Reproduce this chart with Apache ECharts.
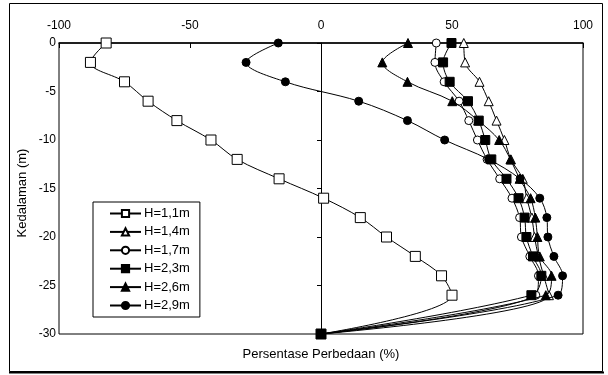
<!DOCTYPE html>
<html><head><meta charset="utf-8">
<script src="https://cdn.jsdelivr.net/npm/echarts@6/dist/echarts.min.js"></script>
<style>html,body{margin:0;padding:0;background:#fff}#c{width:608px;height:375px}</style>
</head><body><div id="c"></div>
<script>
var depths = [0,-2,-4,-6,-8,-10,-12,-14,-16,-18,-20,-22,-24,-26,-30];
var seriesNames = ['H=1,1m','H=1,4m','H=1,7m','H=2,3m','H=2,6m','H=2,9m'];
var h11 = [-82,-88,-75,-66,-55,-42,-32,-16,1,15,25,36,46,50,0];
var h14 = [54.5,55,60.5,64,67,70,72.5,77,78.5,80.5,81.5,83,85,87,0];
var h17 = [44,43.5,47,52.7,56.4,59.7,63.4,68.2,72.9,75.8,76.5,79.7,83,82,0];
var h23 = [49.8,46.6,49.1,56.1,60.2,62.7,65,70.8,75.4,77.7,78.4,80.9,84.1,80.3,0];
var h26 = [33.2,23.4,33,50.1,60,68,72.3,75.8,80,81.8,82.6,83.5,88,85.8,0];
var h29 = [-16.3,-28.6,-13.6,14.4,33,47.2,64,76,83.5,86.2,86.6,88.9,92.2,90.5,0];
var xTicks = [-100,-50,0,50,100];
var xTitle = 'Persentase Perbedaan (%)';
var yTitle = 'Kedalaman (m)';

var values = [h11,h14,h17,h23,h26,h29];
var symbols = ['rect','triangle','circle','rect','triangle','circle'];
var filled = [false,false,false,true,true,true];
var sizes = [10,9,8,9,9,8];
var FONT = 'Liberation Sans';

var series = values.map(function(v,i){
  return {
    name: seriesNames[i], type:'line', smooth:0.35,
    data: v.map(function(x,j){return [x, depths[j]];}),
    symbol: symbols[i], symbolSize: sizes[i], showAllSymbol:true,
    lineStyle:{color:'#000', width:1},
    itemStyle:{color: filled[i] ? '#000' : '#fff', borderColor:'#000', borderWidth:1},
    emphasis:{disabled:true}, animation:false, z: 2+i
  };
});

var chart = echarts.init(document.getElementById('c'), null, {renderer:'canvas'});
chart.setOption({
  animation:false,
  backgroundColor:'#fff',
  grid:{left:59, right:25, top:43, bottom:41, show:true, borderColor:'#000', borderWidth:1},
  xAxis:{type:'value', position:'top', min:-100, max:100, interval:50,
    axisLine:{onZero:false, lineStyle:{color:'#000', width:1.5}},
    axisTick:{inside:true, length:5, lineStyle:{color:'#000'}},
    axisLabel:{color:'#000', fontFamily:FONT, fontSize:12, margin:11,
      formatter:function(v){return xTicks.indexOf(v)>=0 ? String(v) : '';}},
    splitLine:{show:false}},
  yAxis:{type:'value', min:-30, max:0, interval:5,
    axisLine:{onZero:true, lineStyle:{color:'#000', width:1}},
    axisTick:{inside:false, length:4, lineStyle:{color:'#000'}},
    axisLabel:{color:'#000', fontFamily:FONT, fontSize:12, margin:3},
    splitLine:{show:false}},
  legend:{orient:'vertical', left:93, top:202, data:seriesNames,
    itemWidth:31, itemHeight:9, itemGap:5.4,
    borderColor:'#000', borderWidth:1, padding:[5,10,5,16],
    textStyle:{color:'#000', fontFamily:FONT, fontSize:13, lineHeight:13, padding:[0,0,0,-2]},
    selectedMode:false},
  graphic:[
    {type:'rect', shape:{x:9.5,y:3.5,width:593,height:368}, style:{fill:'none', stroke:'#000', lineWidth:1}, silent:true},
    {type:'line', shape:{x1:9,y1:372.5,x2:604,y2:372.5}, style:{stroke:'#000', lineWidth:2}, silent:true},
    {type:'text', x:321, y:354, style:{text:xTitle, fontFamily:FONT, fontSize:13, fill:'#000', align:'center', verticalAlign:'middle'}},
    {type:'text', x:22, y:193, rotation:Math.PI/2, style:{text:yTitle, fontFamily:FONT, fontSize:13, fill:'#000', align:'center', verticalAlign:'middle'}}
  ],
  series: series
});
</script></body></html>
